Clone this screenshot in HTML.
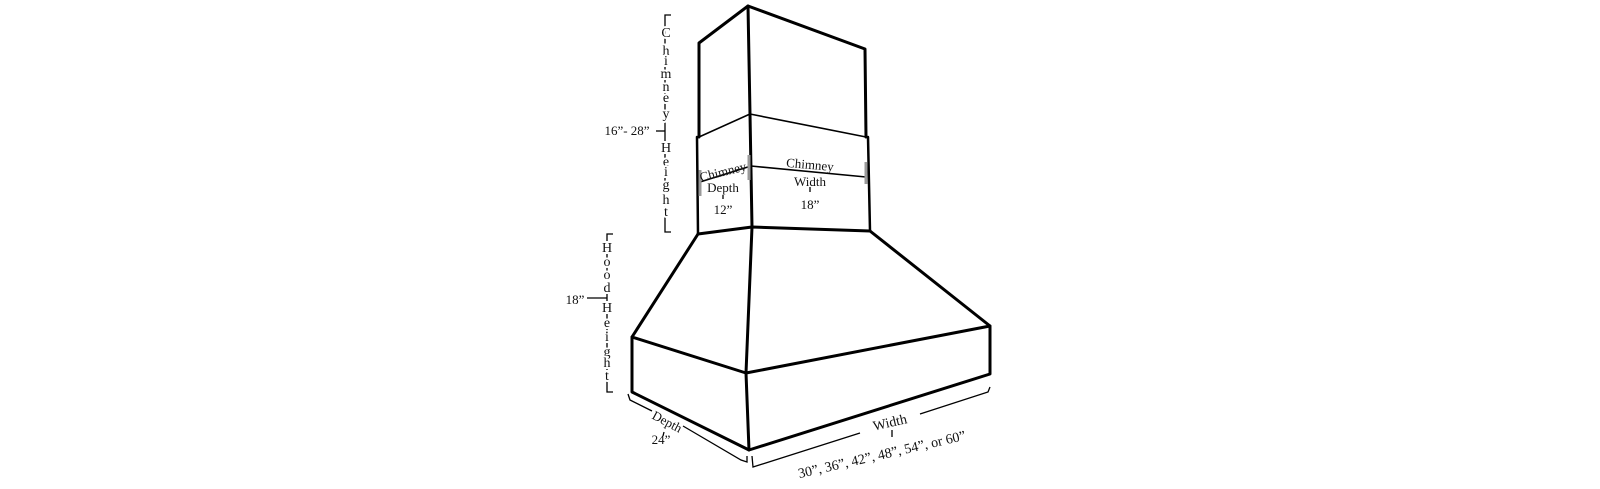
<!DOCTYPE html>
<html><head><meta charset="utf-8"><style>
html,body{margin:0;padding:0;background:#fff;}
svg{display:block;}
text{font-family:"Liberation Serif",serif;fill:#111;}
.v text{paint-order:stroke;stroke:#fff;stroke-width:4px;}
</style></head><body>
<svg width="1600" height="489" viewBox="0 0 1600 489">
<g fill="none" stroke="#000" stroke-linejoin="round" stroke-linecap="round">
  <polyline points="699,137 699,43 748,6 865,49 866,137" stroke-width="3"/>
  <polyline points="699,137 750,114 866,137" stroke-width="1.6"/>
  <polyline points="697,137 698,234" stroke-width="2.5"/>
  <polyline points="868,137 870,231" stroke-width="2.5"/>
  <polyline points="700,182 751,166 866,177" stroke-width="1.6"/>
  <polyline points="698,234 752,227 870,231" stroke-width="3"/>
  <polyline points="698,234 632,337 632,392 749,450 990,374 990,326 870,231" stroke-width="3"/>
  <polyline points="632,337 746,373 990,326" stroke-width="3"/>
  <polyline points="748,6 750,114 752,227 746,373 749,450" stroke-width="3"/>
</g>
<g stroke="#999" stroke-width="3">
  <line x1="700" y1="170" x2="700" y2="196"/>
  <line x1="749" y1="155" x2="749" y2="180"/>
  <line x1="866" y1="162" x2="866" y2="184"/>
</g>
<g fill="none" stroke="#000" stroke-width="1.3">
  <polyline points="671,15 665,15 665,232 671,232"/>
  <line x1="656" y1="131" x2="665" y2="131"/>
  <polyline points="613,234 607,234 607,392 613,392"/>
  <line x1="587" y1="298" x2="607" y2="298"/>
  <polyline points="628,394 630,400 652,411"/>
  <polyline points="683,426 741,460 747,462 747,456"/>
  <polyline points="752,456 753,467 860,433"/>
  <polyline points="920,414 988,392 990,387"/>
  <line x1="723" y1="195" x2="723" y2="199"/>
  <line x1="810" y1="187" x2="810" y2="192"/>
  <line x1="664" y1="432" x2="663" y2="436"/>
  <line x1="892" y1="430" x2="892" y2="437"/>
</g>
<g class="v" font-size="14" text-anchor="middle">
  <text x="666" y="37">C</text><text x="666" y="55">h</text><text x="666" y="65">i</text><text x="666" y="78">m</text><text x="666" y="91">n</text><text x="666" y="102">e</text><text x="666" y="118">y</text><text x="666" y="152">H</text><text x="666" y="166">e</text><text x="666" y="176">i</text><text x="666" y="189">g</text><text x="666" y="204">h</text><text x="666" y="216">t</text>
</g>
<text x="627" y="135" font-size="13" text-anchor="middle">16”- 28”</text>
<g class="v" font-size="14" text-anchor="middle">
  <text x="607" y="252">H</text><text x="607" y="266">o</text><text x="607" y="279">o</text><text x="607" y="292">d</text><text x="607" y="312">H</text><text x="607" y="327">e</text><text x="607" y="341">i</text><text x="607" y="356">g</text><text x="607" y="367">h</text><text x="607" y="380">t</text>
</g>
<text x="575" y="304" font-size="13" text-anchor="middle">18”</text>
<text x="723" y="176" font-size="13" text-anchor="middle" transform="rotate(-14 723 172)">Chimney</text>
<text x="723" y="192" font-size="13" text-anchor="middle">Depth</text>
<text x="723" y="214" font-size="13" text-anchor="middle">12”</text>
<text x="810" y="169" font-size="13" text-anchor="middle" transform="rotate(5 810 165)">Chimney</text>
<text x="810" y="186" font-size="13" text-anchor="middle">Width</text>
<text x="810" y="209" font-size="13" text-anchor="middle">18”</text>
<text x="667" y="426" font-size="13" text-anchor="middle" transform="rotate(28 667 422)">Depth</text>
<text x="661" y="444" font-size="13" text-anchor="middle">24”</text>
<text x="890" y="427" font-size="14" text-anchor="middle" transform="rotate(-13 890 423)">Width</text>
<text x="882" y="459" font-size="14" text-anchor="middle" transform="rotate(-13 882 455)">30”, 36”, 42”, 48”, 54”, or 60”</text>
</svg>
</body></html>
